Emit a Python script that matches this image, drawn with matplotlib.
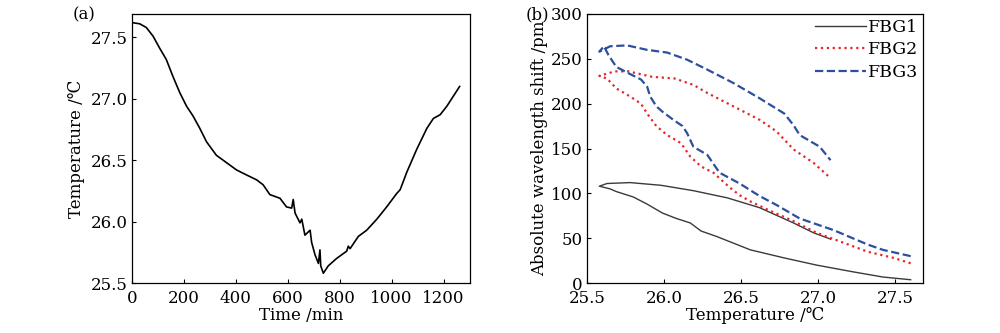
import matplotlib
matplotlib.use('Agg')
import matplotlib.pyplot as plt

# ─── Data ─────────────────────────────────────────────────────────────────────

# (a) temperature vs time
time_min = [0, 30, 55, 81, 107, 132, 158, 184, 210, 235, 261, 287, 325, 364,
            403, 441, 480, 505, 531, 570, 595, 615, 621, 628, 647, 654, 666,
            686, 692, 705, 718, 724, 727, 737, 756, 788, 827, 833, 840, 872,
            904, 943, 981, 1020, 1033, 1058, 1097, 1136, 1161, 1187, 1213, 1262]
temp_c = [27.62, 27.61, 27.58, 27.51, 27.41, 27.32, 27.18, 27.05, 26.94, 26.86,
          26.76, 26.65, 26.54, 26.48, 26.42, 26.38, 26.34, 26.30, 26.22, 26.19,
          26.12, 26.11, 26.18, 26.07, 25.99, 26.02, 25.89, 25.93, 25.83, 25.73,
          25.66, 25.77, 25.64, 25.58, 25.64, 25.70, 25.76, 25.80, 25.78, 25.88,
          25.93, 26.02, 26.12, 26.23, 26.26, 26.40, 26.59, 26.76, 26.84, 26.87,
          26.94, 27.10]

# (b) wavelength shift vs temperature: cooling branch then heating branch
fbg1_t = [27.60, 27.42, 27.21, 26.99, 26.78, 26.56, 26.34, 26.24, 26.17, 26.08,
          25.99, 25.89, 25.80, 25.69, 25.65, 25.58,
          25.63, 25.78, 25.98, 26.19, 26.41, 26.62, 26.84, 26.97, 27.08]
fbg1_s = [3.7, 6.7, 13, 20, 28, 37, 52, 58, 67, 72, 78, 88, 96, 102, 105, 108,
          111, 112, 109, 103, 95, 84, 67, 56, 49]

fbg2_t = [27.60, 27.49, 27.32, 27.10, 26.99, 26.84, 26.67, 26.56, 26.49, 26.43,
          26.32, 26.24, 26.17, 26.11, 26.02, 25.95, 25.89, 25.85, 25.78, 25.69,
          25.63, 25.58,
          25.68, 25.77, 25.92, 26.07, 26.19, 26.28, 26.45, 26.62, 26.73, 26.84,
          26.97, 27.08]
fbg2_s = [22, 28, 35, 49, 56, 69, 82, 91, 98, 106, 123, 130, 141, 156, 165, 175,
          189, 200, 208, 217, 228, 231,
          236, 236, 230, 228, 221, 212, 197, 182, 169, 149, 134, 117]

fbg3_t = [27.60, 27.42, 27.32, 27.10, 26.88, 26.73, 26.62, 26.49, 26.36, 26.28,
          26.19, 26.15, 26.12, 26.06, 25.99, 25.95, 25.91, 25.89, 25.85, 25.78,
          25.69, 25.64, 25.61, 25.58,
          25.65, 25.76, 25.89, 26.02, 26.15, 26.28, 26.45, 26.62, 26.78, 26.84,
          26.88, 27.01, 27.08]
fbg3_s = [30, 37, 43, 59, 72, 87, 97, 111, 123, 143, 152, 167, 175, 182, 191,
          197, 208, 219, 227, 233, 241, 254, 264, 258,
          264, 265, 260, 257, 249, 238, 223, 206, 189, 176, 165, 152, 137]

# ─── Style ────────────────────────────────────────────────────────────────────

plt.rcParams['font.family'] = ['DejaVu Serif', 'DejaVu Sans']
plt.rcParams['font.size'] = 12
plt.rcParams['xtick.direction'] = 'in'
plt.rcParams['ytick.direction'] = 'in'

fig = plt.figure(figsize=(10, 3.33), dpi=100)
ax_a = fig.add_axes([0.132, 0.150, 0.3375, 0.808])
ax_b = fig.add_axes([0.587, 0.150, 0.336, 0.808])

# ─── (a) ──────────────────────────────────────────────────────────────────────

ax_a.plot(time_min, temp_c, color='black', lw=1.2)
ax_a.set_xlim(0, 1300)
ax_a.set_ylim(25.5, 27.69)
ax_a.set_xticks(range(0, 1201, 200))
ax_a.set_yticks([25.5, 26.0, 26.5, 27.0, 27.5])
ax_a.set_xlabel('Time /min', labelpad=0)
ax_a.set_ylabel('Temperature /℃', labelpad=4)
fig.text(0.073, 0.955, '(a)', fontsize=12, va='center')

# ─── (b) ──────────────────────────────────────────────────────────────────────

ax_b.plot(fbg1_t, fbg1_s, '-', color='#3a3a3a', lw=1.0, label='FBG1')
ax_b.plot(fbg2_t, fbg2_s, ':', color='#e8262a', lw=1.6, label='FBG2')
ax_b.plot(fbg3_t, fbg3_s, '--', color='#2c4f9e', lw=1.6, label='FBG3')
ax_b.set_xlim(25.5, 27.68)
ax_b.set_ylim(0, 300)
ax_b.set_xticks([25.5, 26.0, 26.5, 27.0, 27.5])
ax_b.set_yticks(range(0, 301, 50))
ax_b.set_xlabel('Temperature /℃', labelpad=0)
ax_b.set_ylabel('Absolute wavelength shift /pm', labelpad=2)
ax_b.legend(loc='upper right', frameon=False, handlelength=2.9,
            borderaxespad=0.0, borderpad=0.3, labelspacing=0.3,
            handletextpad=0.1, fontsize=12.5)
fig.text(0.526, 0.955, '(b)', fontsize=12, va='center')

for ax in (ax_a, ax_b):
    ax.tick_params(length=3, width=0.8, pad=3)
    ax.tick_params(axis='x', pad=5)
    for s in ax.spines.values():
        s.set_linewidth(0.9)

fig.savefig('out.png', dpi=100)
